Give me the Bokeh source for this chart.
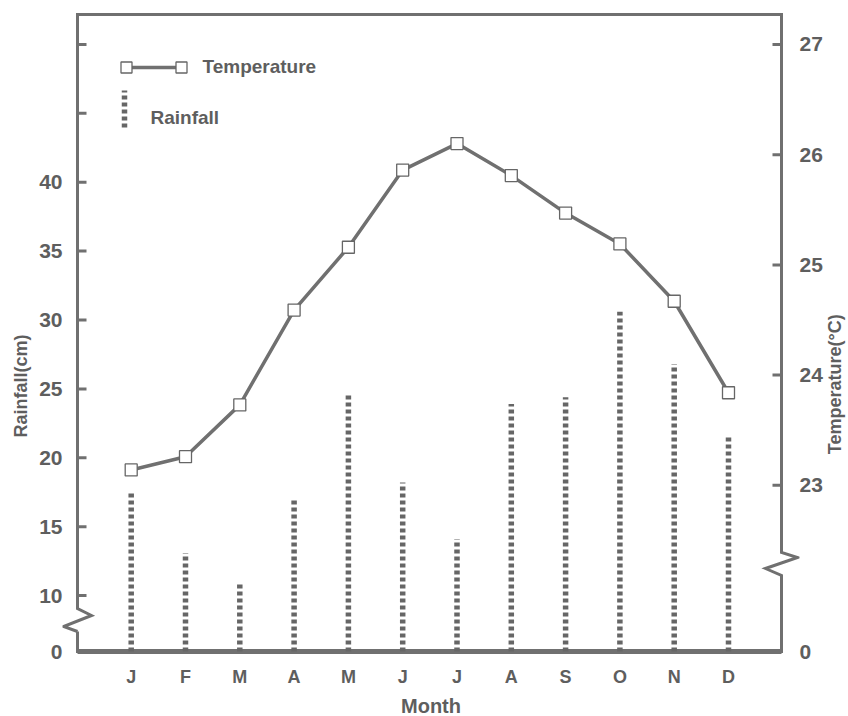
import numpy as np
from bokeh.plotting import figure
from bokeh.layouts import row
from bokeh.models import Range1d, LinearAxis, FixedTicker, ColumnDataSource
from bokeh.core.properties import value
from bokeh.embed import file_html
from bokeh.resources import INLINE

# ---------------- data ----------------
MONTHS = list(range(1, 13))
MONTH_LABELS = ["J", "F", "M", "A", "M", "J", "J", "A", "S", "O", "N", "D"]
RAINFALL_CM = [17.6, 13.1, 10.8, 16.9, 24.7, 18.2, 14.1, 23.9, 24.4, 30.6, 26.8, 21.6]
TEMPERATURE_C = [23.14, 23.26, 23.73, 24.59, 25.16, 25.86, 26.10, 25.81, 25.47, 25.19, 24.67, 23.84]
RAIN_TICKS = [10, 15, 20, 25, 30, 35, 40, 45, 50]
RAIN_TICK_LABELS = ["10", "15", "20", "25", "30", "35", "40", "", ""]
TEMP_TICKS = [23, 24, 25, 26, 27]
TEMP_TICK_LABELS = ["23", "24", "25", "26", "27"]
BREAK_LABEL = "0"

# ---------------- layout (page pixels of the reference) ----------------
PX_J, PX_PER_MONTH = 130.7, 54.3        # x of January, px per month
PX_R40, PX_PER_CM = 181.7, 13.78        # y of 40 cm, px per cm


def x_of_px(px):
    return 1 + (px - PX_J) / PX_PER_MONTH


def r_of_px(py):
    return 40 - (py - PX_R40) / PX_PER_CM


def r_to_t(r):          # 27 degC sits at 50 cm, 1 degC spans 8 cm
    return 27 + (r - 50) / 8.0


LEFT_STRIP, RIGHT_STRIP, PAGE_H = 34, 24, 716
FRAME_L, FRAME_R, FRAME_T, FRAME_B = 62, 799, 11, 654
AXL_PX, AXR_PX, BASE_PX, TOP_PX = 77, 781, 651, 14

X_START, X_END = x_of_px(FRAME_L), x_of_px(FRAME_R)
Y_START, Y_END = r_of_px(FRAME_B), r_of_px(FRAME_T)
AX_L, AX_R = x_of_px(AXL_PX), x_of_px(AXR_PX)
R_BASE, R_TOP = r_of_px(BASE_PX), r_of_px(TOP_PX)
T_BASE = r_to_t(R_BASE)
TICK_LEN = 9 / PX_PER_MONTH

LINE = "#707070"
BAR = "#666666"
TEXT = "#5e5e5e"
NUM_FONT = "Liberation Sans Narrow, Liberation Sans, sans-serif"
LBL_FONT = "Liberation Sans, Arial, sans-serif"

p = figure(frame_width=FRAME_R - FRAME_L, frame_height=FRAME_B - FRAME_T,
           x_range=Range1d(X_START, X_END), y_range=Range1d(Y_START, Y_END),
           output_backend="svg", toolbar_location=None,
           min_border_left=FRAME_L - LEFT_STRIP, min_border_right=848 - RIGHT_STRIP - FRAME_R - 2,
           min_border_top=FRAME_T, min_border_bottom=56)
p.extra_y_ranges = {"temp": Range1d(r_to_t(Y_START), r_to_t(Y_END))}
p.grid.visible = False
p.outline_line_color = None
p.background_fill_color = "white"
p.border_fill_color = "white"


def style_numbers(ax):
    ax.axis_line_color = None
    ax.major_tick_line_color = None
    ax.minor_tick_line_color = None
    ax.major_tick_in = 0
    ax.major_tick_out = 0
    ax.major_label_standoff = 0
    ax.major_label_text_font = NUM_FONT
    ax.major_label_text_font_size = "21px"
    ax.major_label_text_font_style = "bold"
    ax.major_label_text_color = TEXT


# ---- left axis (rainfall), labels only ----
ya = p.yaxis[0]
ya.ticker = FixedTicker(ticks=[R_BASE] + RAIN_TICKS)
ov = {R_BASE: BREAK_LABEL}
ov.update(dict(zip(RAIN_TICKS, RAIN_TICK_LABELS)))
ya.major_label_overrides = ov
style_numbers(ya)

# ---- right axis (temperature), labels only ----
ra = LinearAxis(y_range_name="temp")
ra.ticker = FixedTicker(ticks=[T_BASE] + TEMP_TICKS)
ov2 = {T_BASE: BREAK_LABEL}
ov2.update(dict(zip(TEMP_TICKS, TEMP_TICK_LABELS)))
ra.major_label_overrides = ov2
style_numbers(ra)
p.add_layout(ra, "right")

# ---- bottom axis (months) ----
xa = p.xaxis[0]
xa.ticker = FixedTicker(ticks=MONTHS)
xa.major_label_overrides = dict(zip(MONTHS, MONTH_LABELS))
xa.axis_line_color = None
xa.major_tick_line_color = None
xa.minor_tick_line_color = None
xa.major_tick_out = 0
xa.major_tick_in = 0
xa.major_label_standoff = 12
xa.major_label_text_font = LBL_FONT
xa.major_label_text_font_size = "18px"
xa.major_label_text_font_style = "bold"
xa.major_label_text_color = TEXT
xa.axis_label = "Month"
xa.axis_label_standoff = 5
xa.axis_label_text_font = LBL_FONT
xa.axis_label_text_font_size = "20px"
xa.axis_label_text_font_style = "bold"
xa.axis_label_text_color = TEXT

# ---- drawn frame with axis breaks ----
border_px = [(AXL_PX, 631), (AXL_PX, BASE_PX), (AXR_PX, BASE_PX), (AXR_PX, 575), (765, 568),
             (797, 557), (AXR_PX, 552), (AXR_PX, TOP_PX), (AXL_PX, TOP_PX), (AXL_PX, 608),
             (91, 615), (63, 626), (AXL_PX, 631)]
p.line([x_of_px(a) for a, b in border_px], [r_of_px(b) for a, b in border_px],
       line_color=LINE, line_width=3, line_join="miter")
p.line([AX_L, AX_R], [R_BASE, R_BASE], line_color=LINE, line_width=5)

# inward tick marks
p.segment(x0=[AX_L] * len(RAIN_TICKS), y0=RAIN_TICKS, x1=[AX_L + TICK_LEN] * len(RAIN_TICKS),
          y1=RAIN_TICKS, line_color=LINE, line_width=3)
p.segment(x0=[AX_R] * len(TEMP_TICKS), y0=TEMP_TICKS, x1=[AX_R - TICK_LEN] * len(TEMP_TICKS),
          y1=TEMP_TICKS, line_color=LINE, line_width=3, y_range_name="temp")

# ---- rainfall bars (dotted columns) ----
src = ColumnDataSource(dict(x=MONTHS, rain=RAINFALL_CM, base=[R_BASE] * len(MONTHS),
                            temp=TEMPERATURE_C))
p.segment(x0="x", y0="base", x1="x", y1="rain", source=src, line_color=BAR,
          line_width=5.5, line_dash="4 3", line_cap="butt")

# ---- temperature line ----
p.line(x="x", y="temp", source=src, y_range_name="temp", line_color=LINE, line_width=3.5)
p.scatter(x="x", y="temp", source=src, y_range_name="temp", marker="square", size=12,
          fill_color="white", line_color=BAR, line_width=1.3)

# ---- hand-drawn legend ----
lt_x = [x_of_px(126), x_of_px(181)]
lt_y = [r_of_px(67)] * 2
p.line(lt_x, lt_y, line_color=LINE, line_width=3.5)
p.scatter(lt_x, lt_y, marker="square", size=11, fill_color="white", line_color=BAR, line_width=1.3)
p.text([x_of_px(202)], [r_of_px(66)], text=["Temperature"], text_font=value("Liberation Sans"),
       text_font_size="19px", text_font_style="bold", text_color=TEXT,
       text_baseline="middle", text_align="left")
p.segment([x_of_px(124)], [r_of_px(127)], [x_of_px(124)], [r_of_px(90)], line_color=BAR,
          line_width=5.5, line_dash="4 3", line_cap="butt")
p.text([x_of_px(150)], [r_of_px(117)], text=["Rainfall"], text_font=value("Liberation Sans"),
       text_font_size="19px", text_font_style="bold", text_color=TEXT,
       text_baseline="middle", text_align="left")


# ---- axis titles in narrow side strips ----
def title_strip(w, x_px, y_px, label):
    s = figure(width=w, height=PAGE_H, x_range=Range1d(0, w), y_range=Range1d(PAGE_H, 0),
               output_backend="svg", toolbar_location=None, x_axis_type=None, y_axis_type=None,
               min_border=0, outline_line_color=None)
    s.grid.visible = False
    s.text([x_px], [y_px], text=[label], angle=np.pi / 2, text_align="center",
           text_baseline="middle", text_font=value("Liberation Sans"), text_font_size="18px",
           text_font_style="bold", text_color=TEXT)
    return s


left = title_strip(LEFT_STRIP, 20, 419, "Rainfall(cm)")
right = title_strip(RIGHT_STRIP, 9, 417, "Temperature(°C)")

layout = row(left, p, right)
open("out.html", "w").write(file_html(layout, INLINE))
